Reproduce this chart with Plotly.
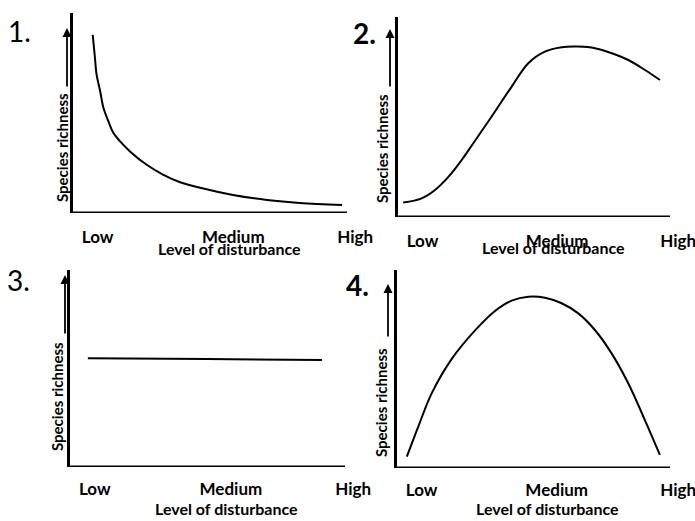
import plotly.graph_objects as go

# ---------------- data ----------------
tick_labels = ["Low", "Medium", "High"]
tick_positions = [9, 58.5, 103]
x_title = "Level of disturbance"
y_title = "Species richness"
panel_numbers = ["1.", "2.", "3.", "4."]

# Panel 1: decreasing curve
p1_x = [7.2, 8.0, 8.6, 9.9, 11.1, 12.9, 14.7, 17.2, 20.8, 26.9, 33.0, 39.1, 46.4, 58.4, 70.8, 82.8, 98.2]
p1_y = [89.1, 77.7, 69.3, 61.0, 52.6, 45.9, 40.1, 35.8, 30.8, 24.1, 19.1, 15.4, 12.6, 9.0, 6.5, 5.0, 4.0]

# Panel 2: rising then slightly falling
p2_x = [1.9, 8.7, 13.6, 18.6, 23.4, 28.0, 34.4, 41.8, 47.9, 54.0, 60.2, 66.3, 72.4, 78.6, 84.7, 90.8, 96.3]
p2_y = [7.2, 9.3, 13.5, 20.2, 28.5, 37.5, 50.2, 65.2, 76.9, 82.7, 84.9, 85.2, 84.4, 81.9, 78.5, 73.5, 68.5]

# Panel 3: flat
p3_x = [6.5, 50.0, 91.6]
p3_y = [55.2, 54.8, 54.3]

# Panel 4: hump
p4_x = [3.6, 7.8, 12.7, 20.0, 28.6, 35.9, 42.0, 48.1, 54.2, 60.3, 66.4, 72.5, 78.6, 84.7, 90.8, 96.3]
p4_y = [5.7, 20.9, 37.7, 55.0, 69.5, 79.3, 84.5, 86.5, 86.0, 83.2, 78.1, 69.7, 57.9, 42.8, 24.2, 6.6]

series_x = [p1_x, p2_x, p3_x, p4_x]
series_y = [p1_y, p2_y, p3_y, p4_y]

# ---------------- layout geometry (pixels) ----------------
W, H = 695, 521
# left(y-axis x), x-axis end, top, bottom, domain right
geom = [
    (73, 347, 13, 213, 380),
    (398, 670, 17, 217, 695),
    (70, 345, 270, 467, 378),
    (397, 670, 270, 468, 695),
]
ylabel_pos = [(62, 148), (382, 148), (57, 397), (381, 402)]
arrow_pos = [(67, 28, 88), (390, 29, 88), (65, 275, 335), (388, 284, 338)]
num_pos = [(19, 31), (364, 33), (18, 280), (357, 285)]
title_y = [249, 247, 508, 508]
title_x = [57, 57, 57, 55]

FONT = "Lato"

def px(x):
    return x / W

def py(y):
    return 1 - y / H

fig = go.Figure()
layout = dict(
    width=W, height=H, margin=dict(l=0, r=0, t=0, b=0),
    paper_bgcolor="white", plot_bgcolor="white", showlegend=False,
)
annotations = []
shapes = []

for i in range(4):
    left, xend, top, bottom, right = geom[i]
    sfx = "" if i == 0 else str(i + 1)
    xr = 100 * (right - left) / (xend - left)
    fig.add_trace(go.Scatter(
        x=series_x[i], y=series_y[i], mode="lines",
        line=dict(color="black", width=2, shape="spline", smoothing=1.0),
        xaxis="x" + sfx, yaxis="y" + sfx, hoverinfo="skip",
    ))
    layout["xaxis" + sfx] = dict(
        domain=[px(left), px(right)], range=[0, xr], anchor="y" + sfx,
        showgrid=False, zeroline=False, showline=False, ticks="",
        tickvals=tick_positions, ticktext=tick_labels,
        tickfont=dict(family=FONT, size=17, color="black", weight="bold"),
        ticklabelstandoff=12 if i < 2 else 10,
        ticklabeloverflow="allow",
    )
    layout["yaxis" + sfx] = dict(
        domain=[py(bottom), py(top)], range=[0, 100], anchor="x" + sfx,
        showgrid=False, zeroline=False, showline=True, linecolor="black",
        linewidth=3, showticklabels=False, ticks="",
    )
    # x-axis line (stops short of the domain end, like the reference)
    shapes.append(dict(
        type="line", xref="x" + sfx, yref="y" + sfx,
        x0=0, x1=100, y0=0, y1=0, line=dict(color="black", width=3),
    ))
    # x title
    annotations.append(dict(
        text=x_title, xref="x" + sfx, yref="paper",
        x=title_x[i], y=py(title_y[i]), showarrow=False,
        xanchor="center", yanchor="middle",
        font=dict(family=FONT, size=16, color="black", weight="bold"),
    ))
    # y title
    cx, cy = ylabel_pos[i]
    annotations.append(dict(
        text=y_title, xref="paper", yref="paper", x=px(cx), y=py(cy),
        textangle=-90, showarrow=False, xanchor="center", yanchor="middle",
        font=dict(family=FONT, size=15, color="black", weight="bold"),
    ))
    # arrow
    ax_, atop, abot = arrow_pos[i]
    annotations.append(dict(
        text="", xref="paper", yref="paper", x=px(ax_), y=py(atop),
        showarrow=True, ax=0, ay=abot - atop, arrowhead=2, arrowsize=1,
        arrowwidth=1.8, arrowcolor="black",
    ))
    # panel number
    nx, ny = num_pos[i]
    annotations.append(dict(
        text=panel_numbers[i], xref="paper", yref="paper", x=px(nx), y=py(ny),
        showarrow=False, xanchor="center", yanchor="middle",
        font=dict(family=FONT, size=28, color="black",
                  weight="bold" if i in (1, 3) else "normal"),
    ))

layout["annotations"] = annotations
layout["shapes"] = shapes
fig.update_layout(**layout)
fig.write_html(
    "out.html",
    config={"displayModeBar": False},
    post_script="document.body.style.margin='0';document.body.style.overflow='hidden';",
)
